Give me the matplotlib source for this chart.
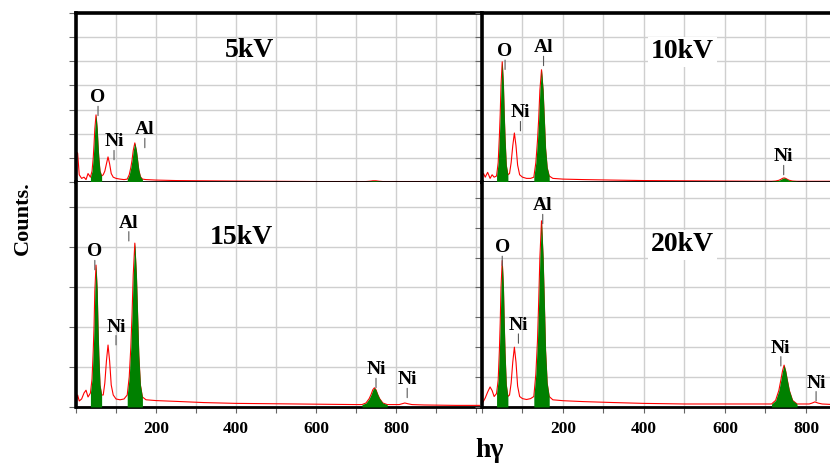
import matplotlib
matplotlib.use("Agg")
import matplotlib.pyplot as plt
import numpy as np

plt.rcParams['font.family'] = ['Liberation Serif', 'DejaVu Serif']
plt.rcParams['font.weight'] = 'bold'

# shared energy channels (x axis, h-gamma)
energy = [0, 4, 8, 14, 20, 25, 30, 36, 40, 43, 45, 47, 50, 53, 55, 57, 60, 64, 68, 72,
          76, 80, 84, 88, 93, 100, 110, 120, 128, 133, 137, 140, 143, 147, 151, 154, 157,
          161, 166, 175, 200, 250, 320, 400, 500, 600, 700, 715, 725, 733, 738, 742, 746,
          750, 754, 759, 767, 778, 795, 808, 815, 822, 830, 840, 870, 950, 1010]

# counts
counts_5kv = [1.24, 1.2, 0.3, 0.15, 0.2, 0.1, 0.35, 0.2,
              0.45, 1.0, 1.55, 2.2, 2.78, 2.2, 1.55, 1.0, 0.45, 0.25,
              0.3, 0.45, 0.75, 1.04, 0.75, 0.35, 0.2,
              0.15, 0.12, 0.1, 0.12,
              0.3, 0.6, 0.9, 1.3, 1.62, 1.3, 0.9, 0.5, 0.22, 0.12,
              0.1, 0.08, 0.06, 0.05, 0.04, 0.03, 0.02, 0.02,
              0.02, 0.02, 0.03, 0.04, 0.05, 0.05, 0.05, 0.04, 0.03, 0.02, 0.02,
              0.02, 0.02, 0.02, 0.02, 0.02, 0.02, 0.02, 0.02, 0.02]
counts_10kv = [0.25, 0.35, 0.2, 0.4, 0.15, 0.3, 0.2, 0.25,
               0.8, 1.9, 2.8, 4.0, 4.98, 4.0, 2.8, 1.8, 0.7, 0.3,
               0.35, 0.8, 1.5, 2.03, 1.5, 0.7, 0.3,
               0.2, 0.15, 0.15, 0.2,
               0.8, 1.7, 2.6, 3.8, 4.65, 3.8, 2.6, 1.4, 0.6, 0.25,
               0.15, 0.12, 0.1, 0.08, 0.06, 0.05, 0.04, 0.03,
               0.03, 0.04, 0.07, 0.11, 0.15, 0.17, 0.15, 0.11, 0.07, 0.04, 0.03,
               0.03, 0.03, 0.03, 0.03, 0.03, 0.03, 0.03, 0.02, 0.02]
counts_15kv = [0.1, 0.3, 0.15, 0.2, 0.35, 0.42, 0.25, 0.35,
               0.7, 1.4, 2.0, 2.9, 3.55, 2.9, 2.0, 1.3, 0.55, 0.3,
               0.3, 0.6, 1.15, 1.55, 1.15, 0.55, 0.3,
               0.2, 0.18, 0.2, 0.3,
               0.75, 1.5, 2.3, 3.3, 4.1, 3.3, 2.3, 1.3, 0.55, 0.25,
               0.18, 0.16, 0.14, 0.11, 0.09, 0.08, 0.07, 0.06,
               0.06, 0.1, 0.21, 0.32, 0.43, 0.48, 0.43, 0.32, 0.21, 0.1, 0.06,
               0.06, 0.06, 0.08, 0.1, 0.08, 0.06, 0.05, 0.04, 0.04]
counts_20kv = [0.1, 0.2, 0.3, 0.5, 0.67, 0.55, 0.35, 0.45,
               0.9, 1.9, 2.8, 4.0, 4.9, 4.0, 2.8, 1.8, 0.75, 0.35,
               0.4, 0.8, 1.5, 2.0, 1.5, 0.7, 0.35,
               0.28, 0.25, 0.28, 0.35,
               1.1, 2.2, 3.5, 5.0, 6.23, 5.0, 3.5, 1.9, 0.8, 0.35,
               0.24, 0.21, 0.18, 0.15, 0.12, 0.1, 0.1, 0.1,
               0.1, 0.22, 0.55, 0.9, 1.2, 1.4, 1.2, 0.9, 0.55, 0.22, 0.1,
               0.1, 0.1, 0.13, 0.17, 0.13, 0.1, 0.08, 0.06, 0.06]

# green (identified) peak windows: O, Al, Ni K
peak_windows = [(36, 64), (128, 166), (715, 778)]

# element labels: (name, x, y) of label centre
labels_5kv = [("O", 55, 3.49), ("Ni", 95, 1.66), ("Al", 172, 2.16)]
labels_10kv = [("O", 57, 5.4), ("Al", 152, 5.56), ("Ni", 95, 2.86), ("Ni", 745, 1.04)]
labels_15kv = [("O", 47, 3.88), ("Al", 132, 4.6), ("Ni", 100, 2.0), ("Ni", 750, 0.93),
               ("Ni", 828, 0.68)]
labels_20kv = [("O", 50, 5.33), ("Al", 150, 6.73), ("Ni", 90, 2.73), ("Ni", 738, 1.97),
               ("Ni", 825, 0.8)]

panels = [
    # title, counts, labels, ymax, ytick count, axes rect, title pos, white box
    ("5kV", counts_5kv, labels_5kv, 7.0, 7, [0.0916, 0.6069, 0.4867, 0.365], (0.43, 0.78), False),
    ("10kV", counts_10kv, labels_10kv, 7.0, 7, [0.5807, 0.6069, 0.4928, 0.365], (0.49, 0.77), True),
    ("15kV", counts_15kv, labels_15kv, 5.63, 5, [0.0916, 0.121, 0.4867, 0.486], (0.41, 0.755), False),
    ("20kV", counts_20kv, labels_20kv, 7.53, 7, [0.5807, 0.121, 0.4928, 0.486], (0.49, 0.72), True),
]

fig = plt.figure(figsize=(8.3, 4.63), dpi=100)
x = np.array(energy)

for i, (title, cts, labs, ymax, nt, rect, tpos, wbox) in enumerate(panels):
    ax = fig.add_axes(rect)
    y = np.array(cts)
    ax.set_xlim(0, 1010)
    ax.set_ylim(0, ymax)
    ax.set_xticks(np.arange(0, 1001, 100))
    ax.set_yticks(np.arange(0, nt + 1, 1))
    ax.grid(True, color='#cfcfcf', lw=1.0)
    ax.set_axisbelow(True)

    # red spectrum, green filled peaks drawn on top
    ax.plot(x, y, color='red', lw=0.8, zorder=2)
    for lo, hi in peak_windows:
        m = (x >= lo) & (x <= hi)
        ax.fill_between(x, 0, y, where=m, color='#008000', lw=0, zorder=3)

    for name, lx, ly in labs:
        t = ax.text(lx, ly, name, ha='center', va='center', fontsize=14,
                    fontweight='bold', zorder=5)
        ax.annotate('', xy=(0.5, -0.55), xycoords=t, xytext=(0.5, 0.0), textcoords=t,
                    arrowprops=dict(arrowstyle='-', color='0.35', lw=0.8,
                                    shrinkA=0, shrinkB=0))

    bbox = dict(facecolor='white', edgecolor='none', pad=2) if wbox else None
    ax.text(tpos[0], tpos[1], title, transform=ax.transAxes, ha='center', va='center',
            fontsize=20, fontweight='bold', bbox=bbox, zorder=6)

    ax.spines['right'].set_visible(False)
    ax.spines['left'].set_linewidth(2.6)
    ax.spines['bottom'].set_linewidth(2.0)
    if i < 2:
        ax.spines['top'].set_linewidth(2.6)
        ax.tick_params(axis='x', bottom=False, labelbottom=False)
    else:
        ax.spines['top'].set_visible(False)
        ax.set_xticklabels(['' if v in (0, 100, 1000) or v % 200 else str(v)
                            for v in range(0, 1001, 100)])
        ax.tick_params(axis='x', direction='out', length=4, width=0.8, color='0.4',
                       labelsize=12.5, pad=6)
    ax.tick_params(axis='y', direction='out', length=5, width=0.8, color='0.4',
                   labelleft=False)

fig.text(0.028, 0.529, "Counts.", rotation=90, ha='center', va='center',
         fontsize=16, fontweight='bold')
fig.text(0.59, 0.028, "hγ", ha='center', va='center', fontsize=20, fontweight='bold')

fig.savefig("out.png", dpi=100)
